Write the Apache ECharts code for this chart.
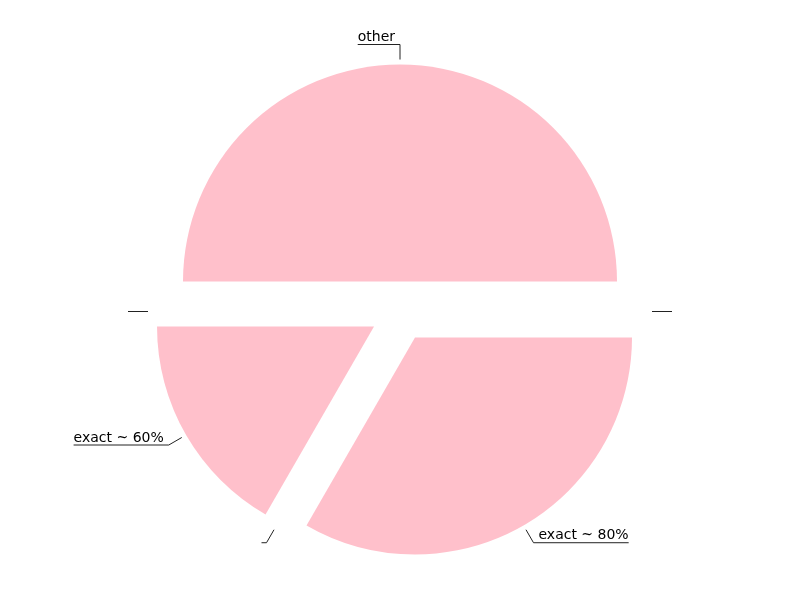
<!DOCTYPE html>
<html>
<head>
<meta charset="utf-8">
<script src="https://cdn.jsdelivr.net/npm/echarts@6/dist/echarts.min.js"></script>
<style>
  html, body { margin: 0; padding: 0; background: #fff; }
  #main { width: 800px; height: 600px; }
</style>
</head>
<body>
<div id="main"></div>
<script>
"use strict";
/** Slice names, in drawing order from the left edge going clockwise */
const sliceNames = ["other", "", "exact ~ 80%", "", "exact ~ 60%", ""];
/** Slice values (empty names are zero-sized slices) */
const sliceValues = [3, 0, 2, 0, 1, 0];

const chart = echarts.init(document.getElementById("main"), null, { renderer: "canvas" });

function BuildData() {
    return sliceNames.map((name, i) => ({
        name: name,
        value: sliceValues[i],
        selected: true
    }));
}

const pieBase = {
    type: "pie",
    center: [400, 311.5],
    startAngle: 180,
    clockwise: true,
    selectedMode: "multiple",
    selectedOffset: 30,
    silent: true
};

chart.setOption({
    animation: false,
    series: [
        // visible slices, no labels
        Object.assign({}, pieBase, {
            radius: 217,
            itemStyle: { color: "pink" },
            select: { itemStyle: { color: "pink", borderWidth: 0 } },
            label: { show: false },
            labelLine: { show: false },
            data: BuildData()
        }),
        // invisible, slightly larger ring that carries the labels (leaves a small gap)
        Object.assign({}, pieBase, {
            radius: 222,
            z: 3,
            itemStyle: { color: "rgba(0,0,0,0)" },
            select: { itemStyle: { color: "rgba(0,0,0,0)", borderWidth: 0 } },
            label: {
                fontSize: 14,
                fontFamily: "DejaVu Sans",
                color: "#000",
                formatter: "{b}\n"
            },
            labelLine: {
                length: 15,
                length2: 0,
                lineStyle: { color: "#222", width: 1 }
            },
            labelLayout: function (params) {
                const isLeft = params.labelRect.x < chart.getWidth() / 2;
                const points = params.labelLinePoints;
                if (!points) {
                    return {};
                }
                // stretch the last segment under the whole label text
                points[2][0] = isLeft ? params.labelRect.x : params.labelRect.x + params.labelRect.width;
                return { labelLinePoints: points };
            },
            data: BuildData()
        })
    ]
});
</script>
</body>
</html>
